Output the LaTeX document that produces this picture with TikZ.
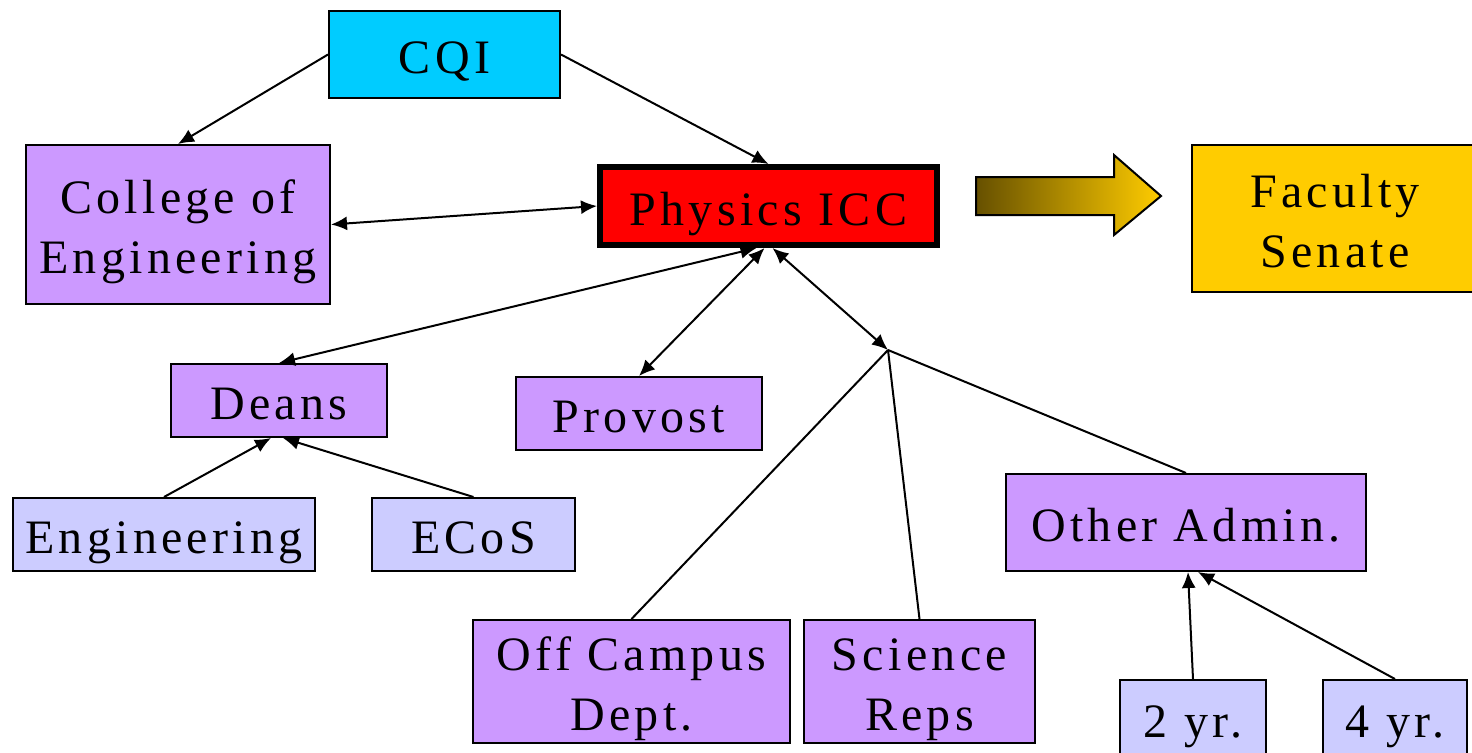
\documentclass[tikz,border=0pt]{standalone}
\usepackage{fontspec}
\setmainfont{Liberation Serif}[LetterSpace=9]
\usetikzlibrary{arrows.meta}
\definecolor{purp}{HTML}{CC99FF}
\definecolor{lav}{HTML}{CCCCFF}
\definecolor{cyanbox}{HTML}{00CCFF}
\definecolor{gold}{HTML}{FFCC00}
\definecolor{darkgold}{HTML}{665000}
\definecolor{redbox}{HTML}{FF0000}
\newcommand{\bs}{\rule[-5.5pt]{0pt}{30pt}}
\begin{document}
\begin{tikzpicture}[x=0.5pt,y=-0.5pt,
  box/.style={draw=black, line width=1pt, inner sep=0pt, font=\fontsize{24}{30}\selectfont, align=center, text=black},
  conn/.style={line width=1pt, -{Latex[length=8pt,width=7pt]}},
  biconn/.style={line width=1pt, {Latex[length=8pt,width=7pt]}-{Latex[length=8pt,width=7pt]}},
  plain/.style={line width=1pt}]
\useasboundingbox (0,0) rectangle (1472,752);
\clip (0,0) rectangle (1472,752);

\node[box, fill=cyanbox, minimum width=115.5pt, minimum height=43.5pt] (cqi) at (444.5,54.5) {\bs CQI};
\node[box, fill=purp, minimum width=152pt, minimum height=79.5pt] (college) at (178,224.5) {\bs College of\\\bs Engineering};
\node[box, fill=redbox, line width=3pt, minimum width=168.5pt, minimum height=39pt] (physics) at (768.5,206) {\bs Physics ICC};
\node[box, fill=gold, minimum width=143pt, minimum height=73.5pt] (senate) at (1335,218) {\bs Faculty\\\bs Senate};
\node[box, fill=purp, minimum width=108pt, minimum height=36.5pt] (deans) at (279,400.5) {\bs Deans};
\node[box, fill=purp, minimum width=123pt, minimum height=36.5pt] (provost) at (639,413.5) {\bs Provost};
\node[box, fill=lav, minimum width=151pt, minimum height=36.5pt] (engineering) at (164,534.5) {\bs Engineering};
\node[box, fill=lav, minimum width=101.5pt, minimum height=36.5pt] (ecos) at (473.5,534.5) {\bs ECoS};
\node[box, fill=purp, minimum width=180pt, minimum height=48.5pt] (other) at (1186,522.5) {\bs Other Admin.};
\node[box, fill=purp, minimum width=158.5pt, minimum height=61.5pt] (offcampus) at (631.5,681.5) {\bs Off Campus\\\bs Dept.};
\node[box, fill=purp, minimum width=115.5pt, minimum height=61.5pt] (science) at (919.5,681.5) {\bs Science\\\bs Reps};
\node[box, fill=lav, minimum width=73pt, minimum height=38pt] (two) at (1193,718) {\bs 2 yr.};
\node[box, fill=lav, minimum width=72pt, minimum height=38pt] (four) at (1395,718) {\bs 4 yr.};

\shade[draw=black, line width=1pt, left color=darkgold, right color=gold]
  (976,177) -- (1114,177) -- (1114,155) -- (1161,196) -- (1114,235) -- (1114,215) -- (976,215) -- cycle;

\coordinate (j) at (888,350);

\draw[conn] (cqi.west) -- (college.north);
\draw[conn] (cqi.east) -- (physics.north);
\draw[biconn] (college.east) -- (physics.west);
\draw[biconn] ([xshift=-6pt]physics.south) -- (deans.north);
\draw[biconn] ([xshift=-2pt]physics.south) -- (provost.north);
\draw[biconn] ([xshift=2pt]physics.south) -- (j);
\draw[plain] (j) -- (offcampus.north);
\draw[plain] (j) -- (science.north);
\draw[plain] (j) -- (other.north);
\draw[conn] (engineering.north) -- ([xshift=-4pt]deans.south);
\draw[conn] (ecos.north) -- ([xshift=2pt]deans.south);
\draw[conn] (two.north) -- ([xshift=1pt]other.south);
\draw[conn] (four.north) -- ([xshift=6pt]other.south);
\end{tikzpicture}
\end{document}
